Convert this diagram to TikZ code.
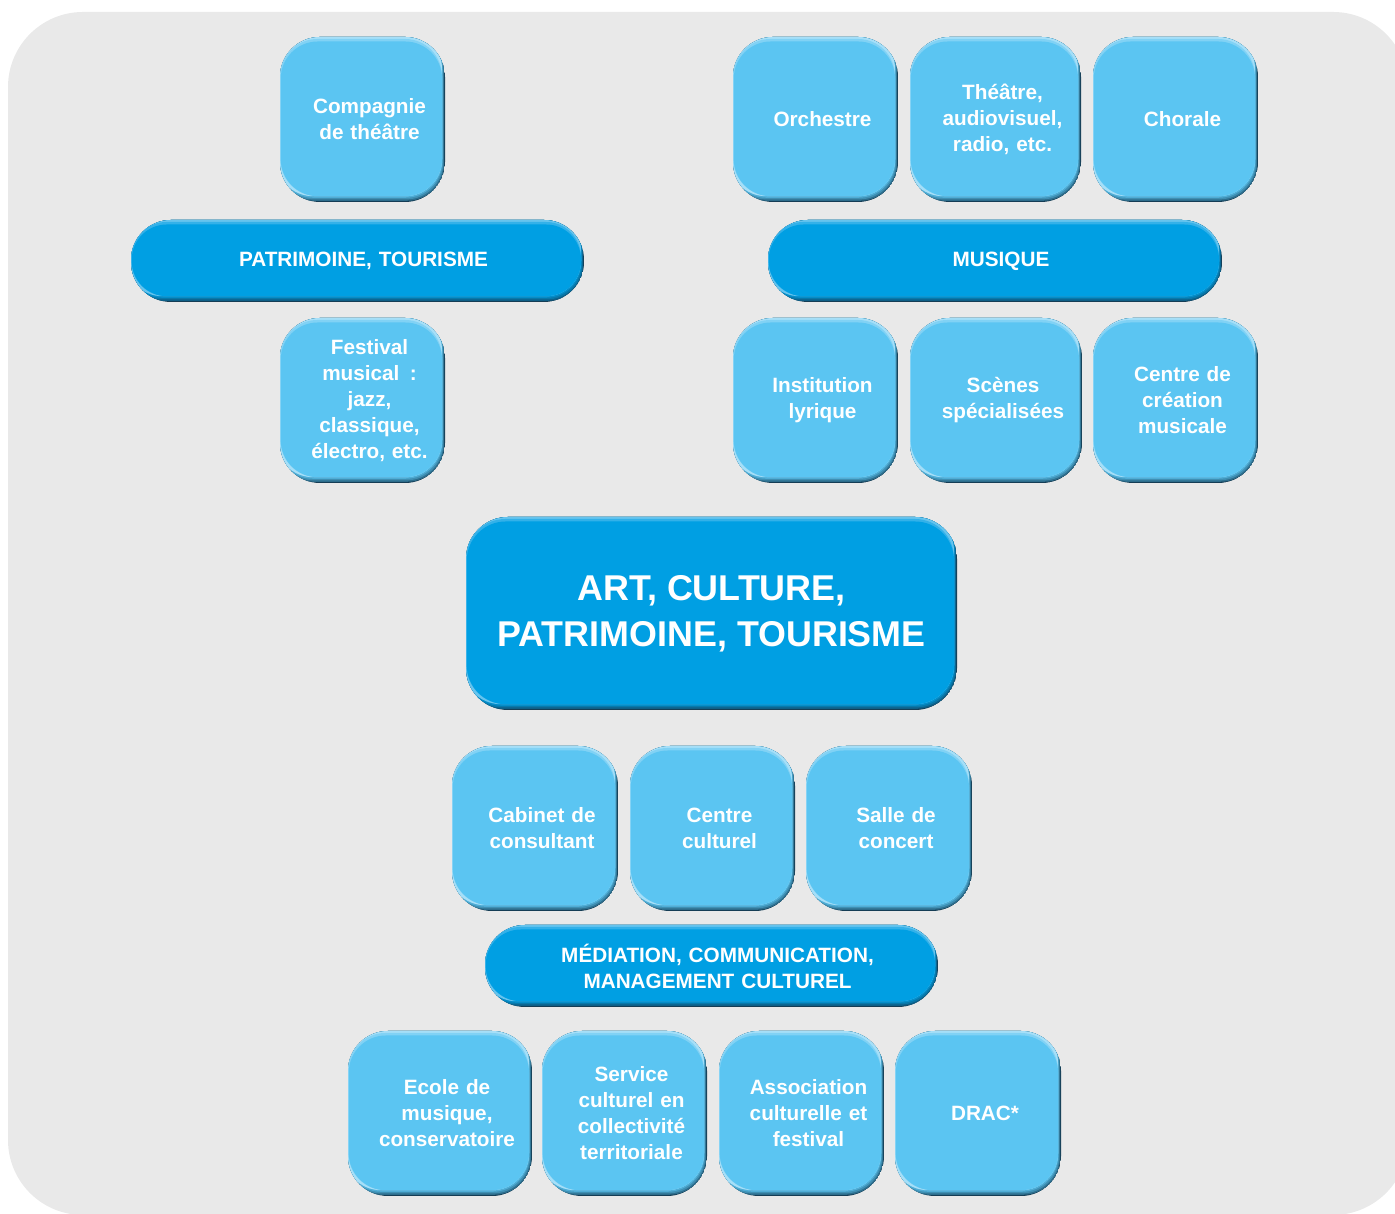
\documentclass[tikz,border=0pt]{standalone}
\usepackage{fontspec}
\usepackage{tikz}
\usepackage{xcolor}
\usetikzlibrary{calc}
\setmainfont{Liberation Sans}
\definecolor{backgray}{HTML}{E9E9E9}
\definecolor{tileblue}{HTML}{5BC5F2}
\definecolor{tilelight}{HTML}{A6DFF8}
\definecolor{barblue}{HTML}{009FE3}
\definecolor{barlight}{HTML}{66C4EE}
\definecolor{rimdark}{HTML}{153D55}
\tikzset{
    bevel/.style n args={3}{path picture={
        \coordinate (sw) at (path picture bounding box.south west);
        \coordinate (ne) at (path picture bounding box.north east);
        \fill[rimdark] (sw) rectangle (ne);
        \fill[#1!35!rimdark, rounded corners=#3] ($(sw)+(-0.04,0.012)$) rectangle ($(ne)+(-0.008,0.05)$);
        \fill[#1!60!rimdark, rounded corners=#3] ($(sw)+(-0.04,0.026)$) rectangle ($(ne)+(-0.016,0.05)$);
        \fill[#1!82!rimdark, rounded corners=#3] ($(sw)+(-0.04,0.042)$) rectangle ($(ne)+(-0.024,0.05)$);
        \fill[#2, rounded corners=#3] ($(sw)+(-0.04,0.058)$) rectangle ($(ne)+(-0.03,0.05)$);
        \fill[#1!50!#2, rounded corners=#3] ($(sw)+(0.004,0.058)$) rectangle ($(ne)+(-0.03,-0.02)$);
        \fill[#1, rounded corners=#3] ($(sw)+(0.008,0.058)$) rectangle ($(ne)+(-0.03,-0.045)$);
    }},
    shifted text/.style={align=center, execute at begin node={%
        \leftskip=#1 plus 1fil\rightskip=0pt plus 1fil\parfillskip=0pt\hyphenpenalty=10000}},
    tile/.style={rectangle, rounded corners=0.4cm, minimum width=1.65cm, minimum height=1.65cm, inner sep=0pt,
        text width=1.65cm, text=white, font={\bfseries\fontsize{5.9}{7.4}\selectfont}, shifted text=0.14cm,
        bevel={tileblue}{tilelight}{0.37cm}},
    band/.style={rectangle, rounded corners=0.4cm, minimum width=4.53cm, minimum height=0.82cm, inner sep=0pt,
        text width=4.53cm, text=white, font={\bfseries\fontsize{5.9}{7.4}\selectfont}, shifted text=0.12cm,
        bevel={barblue}{barlight}{0.35cm}},
    headbox/.style={rectangle, rounded corners=0.42cm, minimum width=4.91cm, minimum height=1.93cm, inner sep=0pt,
        align=center, text=white, font={\bfseries\fontsize{10.2}{13}\selectfont}, bevel={barblue}{barlight}{0.39cm}}
}

\begin{document}
\begin{tikzpicture}
    \useasboundingbox (0,0) rectangle (13.95,12.13);
    \fill[backgray, rounded corners=0.75cm] (0.08,-0.02) rectangle (14.08,12.01);
    % patrimoine
    \node[tile] (comp) at (3.625,10.935) {Compagnie\\de théâtre};
    \node[band] (patr) at (3.575,9.52) {PATRIMOINE, TOURISME};
    \node[tile] (fest) at (3.625,8.125) {Festival\\musical\enspace:\\jazz,\\classique,\\électro, etc.};
    % musique
    \node[tile] (orch) at (8.155,10.935) {Orchestre};
    \node[tile, minimum width=1.71cm] (thea) at (9.955,10.935) {Théâtre,\\audiovisuel,\\radio, etc.};
    \node[tile] (chor) at (11.755,10.935) {Chorale};
    \node[band, minimum width=4.54cm] (musq) at (9.95,9.52) {MUSIQUE};
    \node[tile] (inst) at (8.155,8.125) {Institution\\lyrique};
    \node[tile, minimum width=1.72cm] (scen) at (9.96,8.125) {Scènes\\spécialisées};
    \node[tile] (crea) at (11.755,8.125) {Centre de\\création\\musicale};
    % centre
    \node[headbox] (art) at (7.115,5.995) {ART, CULTURE,\\PATRIMOINE, TOURISME};
    % mediation
    \node[tile, minimum width=1.66cm] (cabi) at (5.35,3.845) {Cabinet de\\consultant};
    \node[tile] (ccul) at (7.125,3.845) {Centre\\culturel};
    \node[tile, minimum width=1.66cm] (sall) at (8.89,3.845) {Salle de\\concert};
    \node[band] (medi) at (7.115,2.47) {MÉDIATION, COMMUNICATION,\\MANAGEMENT CULTUREL};
    \node[tile, minimum width=1.84cm, text width=1.84cm] (ecol) at (4.40,0.995) {Ecole de\\musique,\\conservatoire};
    \node[tile] (serv) at (6.245,0.995) {Service\\culturel en\\collectivité\\territoriale};
    \node[tile] (asso) at (8.015,0.995) {Association\\culturelle et\\festival};
    \node[tile, minimum width=1.66cm] (drac) at (9.78,0.995) {DRAC*};
\end{tikzpicture}
\end{document}
